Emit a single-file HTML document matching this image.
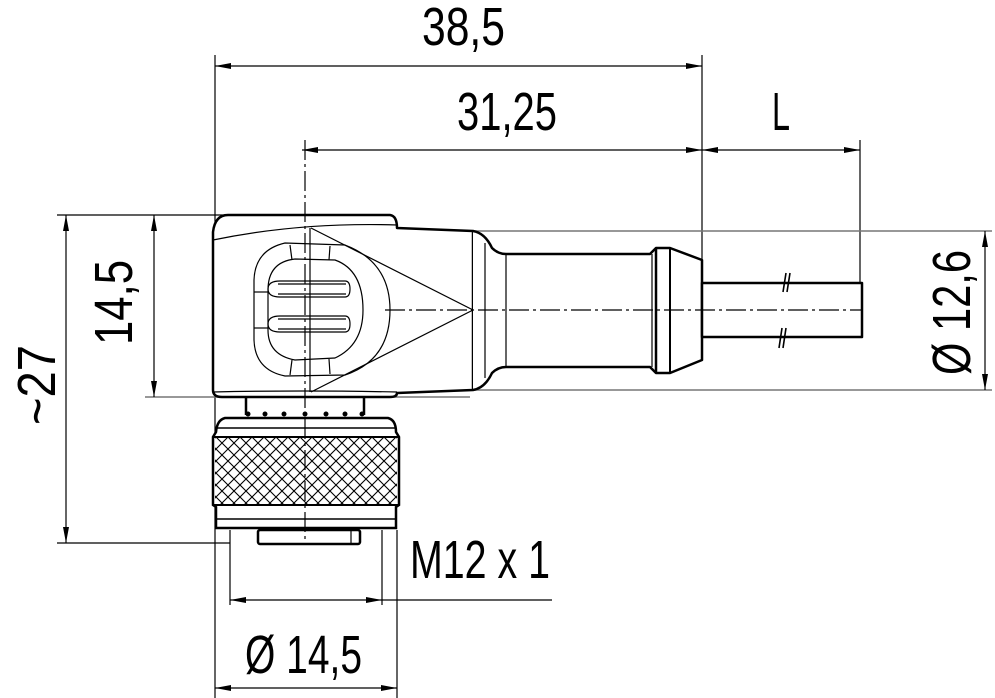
<!DOCTYPE html>
<html><head><meta charset="utf-8"><style>html,body{margin:0;padding:0;background:#fff}svg{display:block}</style></head>
<body>
<svg width="995" height="698" viewBox="0 0 995 698" xmlns="http://www.w3.org/2000/svg">
<defs>
<marker id="a" viewBox="0 0 16 6" refX="16" refY="3" markerWidth="16" markerHeight="6" orient="auto-start-reverse" markerUnits="userSpaceOnUse"><path d="M0,0 L16,3 L0,6 Z" fill="#000"/></marker>
<pattern id="k" width="12" height="12" patternUnits="userSpaceOnUse" x="216" y="437">
<path d="M-1,-1 L13,13 M13,-1 L-1,13" stroke="#000" stroke-width="1.1"/></pattern>
</defs>
<g font-family="Liberation Sans, sans-serif" fill="#000">
<text x="422" y="45" font-size="54" textLength="83" lengthAdjust="spacingAndGlyphs">38,5</text>
<text x="457" y="130" font-size="54" textLength="100" lengthAdjust="spacingAndGlyphs">31,25</text>
<text x="772" y="130" font-size="54" textLength="18" lengthAdjust="spacingAndGlyphs">L</text>
<text transform="translate(55,425) rotate(-90)" font-size="54" textLength="80" lengthAdjust="spacingAndGlyphs">~27</text>
<text transform="translate(132,345) rotate(-90)" font-size="54" textLength="85" lengthAdjust="spacingAndGlyphs">14,5</text>
<text transform="translate(970,375) rotate(-90)" font-size="54" textLength="125" lengthAdjust="spacingAndGlyphs">Ø 12,6</text>
<text x="410" y="578" font-size="54" textLength="140" lengthAdjust="spacingAndGlyphs">M12 x 1</text>
<text x="245" y="673" font-size="54" textLength="117" lengthAdjust="spacingAndGlyphs">Ø 14,5</text>
</g>
<g stroke="#000" stroke-width="1.2" fill="none">
<line x1="215" y1="55" x2="215" y2="698"/>
<line x1="702" y1="55" x2="702" y2="260"/>
<line x1="860" y1="140" x2="860" y2="285"/>
<line x1="57" y1="215" x2="230" y2="215"/>
<line x1="57" y1="543" x2="230" y2="543"/>
<line x1="397" y1="530" x2="397" y2="698"/>
<line x1="230" y1="530" x2="230" y2="605"/>
<line x1="382" y1="530" x2="382" y2="605"/>
<line x1="382" y1="600" x2="552" y2="600"/>
</g>
<g stroke="#777" stroke-width="1.5">
<line x1="145" y1="397" x2="470" y2="397"/>
<line x1="470" y1="390" x2="992" y2="390"/>
<line x1="470" y1="231" x2="992" y2="231"/>
</g>
<g stroke="#000" stroke-width="1.2" marker-start="url(#a)" marker-end="url(#a)">
<line x1="215" y1="66" x2="702" y2="66"/>
<line x1="302" y1="150" x2="702" y2="150"/>
<line x1="702" y1="150" x2="860" y2="150"/>
<line x1="66" y1="215" x2="66" y2="543"/>
<line x1="154" y1="215" x2="154" y2="397"/>
<line x1="985" y1="231" x2="985" y2="390"/>
<line x1="230" y1="600" x2="382" y2="600"/>
<line x1="215" y1="688" x2="397" y2="688"/>
</g>
<g stroke="#000" stroke-width="2.5" fill="#fff" stroke-linejoin="round">
<path d="M228,215 L390,215 Q397,216 397,228 L473,231 L473,390 L397,393 Q397,397 390,397 L222,397 Q213,397 213,390 L213,232 Q215,215 228,215 Z"/>
<path d="M473,231 Q485,233 492,248 Q498,254 506,254 L650,254 L656,248 L670,248 L702,260 L702,360 L670,373 L656,373 L650,367 L506,367 Q498,367 492,373 Q485,388 473,390"/>
<rect x="702" y="283" width="160" height="54"/>
</g>
<g stroke="#000" stroke-width="1.2" fill="none">
<path d="M213,240 Q300,222 397,225"/>
<path d="M213,392 Q300,390 397,392"/>
<line x1="310" y1="228" x2="310" y2="392"/>
<path d="M311,228 L473,310 L311,392"/>
<line x1="485" y1="243" x2="485" y2="378"/>
<line x1="506" y1="254" x2="506" y2="367"/>
<line x1="652" y1="254" x2="652" y2="367"/>
<line x1="656" y1="248" x2="656" y2="373" stroke-width="2.5"/>
<line x1="670" y1="248" x2="670" y2="373" stroke-width="2"/>
<path d="M285,243 L345,245 Q390,262 390,310 Q390,360 345,375 L285,376 Q255,370 254,340 L254,280 Q255,250 285,243 Z"/>
<path d="M295,259 L335,260 Q363,270 363,310 Q363,345 335,358 L295,360 Q268,355 268,330 L268,290 Q268,262 295,259 Z"/>
<path d="M280,281 L345,281 Q350,281 350,289 Q350,297 345,297 L280,297 Q268,297 268,289 Q268,281 280,281 Z"/>
<path d="M280,316 L345,316 Q350,316 350,324 Q350,332 345,332 L280,332 Q268,332 268,324 Q268,316 280,316 Z"/>
<line x1="278" y1="284" x2="346" y2="284"/><line x1="278" y1="294" x2="346" y2="294"/>
<line x1="278" y1="319" x2="346" y2="319"/><line x1="278" y1="329" x2="346" y2="329"/>
<line x1="290" y1="245" x2="292" y2="260"/><line x1="330" y1="246" x2="329" y2="260"/>
<line x1="290" y1="375" x2="292" y2="360"/><line x1="330" y1="374" x2="329" y2="359"/>
<line x1="254" y1="292" x2="268" y2="292"/><line x1="254" y1="328" x2="268" y2="328"/>
<path d="M786,273 L783,292 M790,273 L787,292 M782,328 L779,348 M786,328 L783,348" stroke-width="1.6"/>
</g>
<g stroke="#000" stroke-width="2.5" fill="#fff">
<line x1="246" y1="397" x2="246" y2="415"/>
<line x1="364" y1="397" x2="364" y2="415"/>
<path d="M225,418 L388,418 Q396,420 396,432 L399,437 L399,505 L396,507 L396,528 L216,528 L216,507 L213,505 L213,437 L216,432 Q217,420 225,418 Z"/>
<rect x="258" y="530" width="102" height="14" rx="2"/>
</g>
<rect x="215" y="438" width="182" height="66" fill="url(#k)"/>
<g stroke="#000" stroke-width="2" fill="none">
<line x1="213" y1="437" x2="399" y2="437"/><line x1="213" y1="505" x2="399" y2="505"/>
<line x1="216" y1="428" x2="396" y2="428" stroke-width="1.5"/>
<line x1="216" y1="519" x2="396" y2="519" stroke-width="1.5"/>
<line x1="351" y1="530" x2="351" y2="544" stroke-width="1.2"/>
</g>
<g fill="#000">
<circle cx="248" cy="414" r="2.5"/><circle cx="265" cy="414" r="2.5"/><circle cx="284" cy="414" r="2.5"/><circle cx="305" cy="414" r="2.5"/><circle cx="326" cy="414" r="2.5"/><circle cx="345" cy="414" r="2.5"/><circle cx="362" cy="414" r="2.5"/>
</g>
<g stroke="#000" stroke-width="1.2" stroke-dasharray="20,4,3,4" fill="none">
<line x1="305" y1="140" x2="305" y2="540"/>
<line x1="385" y1="310" x2="862" y2="310"/>
</g>
</svg>
</body></html>
